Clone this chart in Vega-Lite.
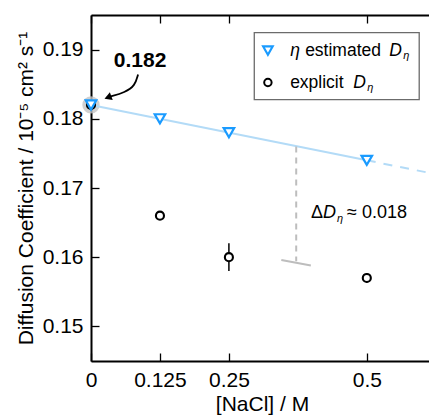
{
  "$schema": "https://vega.github.io/schema/vega-lite/v6.json",
  "width": 342,
  "height": 346,
  "autosize": "none",
  "padding": {"left": 91, "top": 15, "right": 0, "bottom": 55},
  "background": "white",
  "config": {
    "font": "Liberation Sans",
    "view": {"stroke": null},
    "text": {"font": "Liberation Sans", "color": "black"},
    "axis": {"grid": false, "domainColor": "black", "domainWidth": 2, "tickColor": "black", "tickWidth": 1.3, "tickSize": -8, "labelColor": "black", "titleColor": "black", "labelFontSize": 21, "titleFontSize": 21, "titleFontWeight": "normal", "labelFont": "Liberation Sans", "titleFont": "Liberation Sans", "labelFlush": false}
  },
  "datasets": {
    "explicit": [
      {"conc": 0, "D": 0.182, "lo": 0.182, "hi": 0.182},
      {"conc": 0.125, "D": 0.166, "lo": 0.1657, "hi": 0.1663},
      {"conc": 0.25, "D": 0.160, "lo": 0.158, "hi": 0.162},
      {"conc": 0.5, "D": 0.157, "lo": 0.1563, "hi": 0.1577}
    ],
    "estimated": [
      {"conc": 0, "D": 0.182},
      {"conc": 0.125, "D": 0.180},
      {"conc": 0.25, "D": 0.178},
      {"conc": 0.5, "D": 0.174}
    ],
    "fitSolid": [{"conc": 0, "D": 0.182}, {"conc": 0.5, "D": 0.174}],
    "fitDashed": [{"conc": 0.5, "D": 0.174}, {"conc": 0.63, "D": 0.17192}],
    "gap": [{"conc": 0.372, "D": 0.176}, {"conc": 0.372, "D": 0.1594}],
    "gapFoot": [{"conc": 0.345, "D": 0.1596}, {"conc": 0.3986, "D": 0.1588}],
    "arrow": [
      {"conc": 0.0853, "D": 0.1864},
      {"conc": 0.0799, "D": 0.1848},
      {"conc": 0.0617, "D": 0.1838},
      {"conc": 0.0345, "D": 0.1832}
    ],
    "legendRow1": [{"conc": 0.361, "D": 0.18986}],
    "legendRow2": [{"conc": 0.361, "D": 0.18524}],
    "delta": [{"conc": 0.399, "D": 0.1664}]
  },
  "layer": [
    {
      "data": {"values": [{"conc": 0, "D": 0.182}]},
      "mark": {"type": "point", "shape": "circle", "filled": true, "size": 300, "color": "#c4c4c4", "opacity": 0.8},
      "encoding": {
        "x": {"field": "conc", "type": "quantitative", "scale": {"domain": [0, 0.62], "nice": false, "zero": false},
              "axis": {"orient": "bottom", "values": [0, 0.125, 0.25, 0.5], "labelExpr": "datum.value", "labelPadding": 16, "title": "[NaCl] / M", "titlePadding": 3}},
        "y": {"field": "D", "type": "quantitative", "scale": {"domain": [0.145, 0.195], "nice": false, "zero": false},
              "axis": {"orient": "left", "values": [0.15, 0.16, 0.17, 0.18, 0.19], "format": ".2f", "labelPadding": 16, "title": "Diffusion Coefficient / 10⁻⁵ cm² s⁻¹", "titlePadding": 6}}
      }
    },
    {
      "data": {"values": [{"conc": 0, "D": 0.19}]},
      "mark": {"type": "point", "opacity": 0},
      "encoding": {
        "x": {"field": "conc", "type": "quantitative", "axis": {"orient": "top", "values": [0, 0.125, 0.25, 0.5], "labels": false, "title": null}},
        "y": {"field": "D", "type": "quantitative"}
      }
    },
    {
      "data": {"name": "fitSolid"},
      "mark": {"type": "line", "color": "#b3dbf7", "strokeWidth": 2},
      "encoding": {"x": {"field": "conc", "type": "quantitative", "axis": null}, "y": {"field": "D", "type": "quantitative"}}
    },
    {
      "data": {"name": "fitDashed"},
      "mark": {"type": "line", "color": "#b3dbf7", "strokeWidth": 2, "strokeDash": [9, 8], "clip": true},
      "encoding": {"x": {"field": "conc", "type": "quantitative", "axis": null}, "y": {"field": "D", "type": "quantitative"}}
    },
    {
      "data": {"name": "gap"},
      "mark": {"type": "line", "color": "#bdbdbd", "strokeWidth": 2, "strokeDash": [6, 5]},
      "encoding": {"x": {"field": "conc", "type": "quantitative", "axis": null}, "y": {"field": "D", "type": "quantitative"}}
    },
    {
      "data": {"name": "gapFoot"},
      "mark": {"type": "line", "color": "#bdbdbd", "strokeWidth": 2},
      "encoding": {"x": {"field": "conc", "type": "quantitative", "axis": null}, "y": {"field": "D", "type": "quantitative"}}
    },
    {
      "data": {"name": "explicit"},
      "mark": {"type": "rule", "color": "black", "strokeWidth": 1.5},
      "encoding": {"x": {"field": "conc", "type": "quantitative", "axis": null}, "y": {"field": "lo", "type": "quantitative"}, "y2": {"field": "hi"}}
    },
    {
      "data": {"name": "explicit"},
      "mark": {"type": "point", "shape": "circle", "size": 65, "filled": true, "fill": "white", "stroke": "black", "strokeWidth": 2.1, "opacity": 1},
      "encoding": {"x": {"field": "conc", "type": "quantitative", "axis": null}, "y": {"field": "D", "type": "quantitative"}}
    },
    {
      "data": {"name": "estimated"},
      "mark": {"type": "point", "shape": "triangle-down", "size": 110, "filled": true, "fill": "white", "stroke": "#1a9bff", "strokeWidth": 2.2, "opacity": 1},
      "encoding": {"x": {"field": "conc", "type": "quantitative", "axis": null}, "y": {"field": "D", "type": "quantitative"}}
    },
    {
      "data": {"name": "arrow"},
      "mark": {"type": "line", "color": "black", "strokeWidth": 1.8, "interpolate": "basis"},
      "encoding": {"x": {"field": "conc", "type": "quantitative", "axis": null}, "y": {"field": "D", "type": "quantitative"}}
    },
    {
      "data": {"values": [{"conc": 0.0327, "D": 0.18315}]},
      "mark": {"type": "point", "shape": "triangle", "size": 70, "filled": true, "color": "black", "opacity": 1, "angle": 250},
      "encoding": {"x": {"field": "conc", "type": "quantitative", "axis": null}, "y": {"field": "D", "type": "quantitative"}}
    },
    {
      "data": {"values": [{"conc": 0.089, "D": 0.1883, "label": "0.182"}]},
      "mark": {"type": "text", "fontSize": 21, "fontWeight": "bold", "align": "center", "baseline": "middle"},
      "encoding": {"x": {"field": "conc", "type": "quantitative", "axis": null}, "y": {"field": "D", "type": "quantitative"}, "text": {"field": "label"}}
    },
    {
      "data": {"values": [{"x1": 0.296, "x2": 0.595, "y1": 0.18278, "y2": 0.19245}]},
      "mark": {"type": "rect", "fill": "white", "stroke": "#6b6b6b", "strokeWidth": 1.3},
      "encoding": {"x": {"field": "x1", "type": "quantitative", "axis": null}, "x2": {"field": "x2"}, "y": {"field": "y1", "type": "quantitative"}, "y2": {"field": "y2"}}
    },
    {
      "data": {"values": [{"conc": 0.3207, "D": 0.18986}]},
      "mark": {"type": "point", "shape": "triangle-down", "size": 90, "filled": true, "fill": "white", "stroke": "#1a9bff", "strokeWidth": 2.2, "opacity": 1},
      "encoding": {"x": {"field": "conc", "type": "quantitative", "axis": null}, "y": {"field": "D", "type": "quantitative"}}
    },
    {
      "data": {"values": [{"conc": 0.3207, "D": 0.18524}]},
      "mark": {"type": "point", "shape": "circle", "size": 55, "filled": true, "fill": "white", "stroke": "black", "strokeWidth": 2, "opacity": 1},
      "encoding": {"x": {"field": "conc", "type": "quantitative", "axis": null}, "y": {"field": "D", "type": "quantitative"}}
    },
    {
      "data": {"name": "legendRow1"},
      "mark": {"type": "text", "text": "η", "fontStyle": "italic", "fontSize": 17.5, "align": "left", "baseline": "middle"},
      "encoding": {"x": {"field": "conc", "type": "quantitative", "axis": null}, "y": {"field": "D", "type": "quantitative"}}
    },
    {
      "data": {"name": "legendRow1"},
      "mark": {"type": "text", "text": "estimated", "fontSize": 17.5, "align": "left", "baseline": "middle", "dx": 15},
      "encoding": {"x": {"field": "conc", "type": "quantitative", "axis": null}, "y": {"field": "D", "type": "quantitative"}}
    },
    {
      "data": {"name": "legendRow1"},
      "mark": {"type": "text", "text": "D", "fontStyle": "italic", "fontSize": 17.5, "align": "left", "baseline": "middle", "dx": 99},
      "encoding": {"x": {"field": "conc", "type": "quantitative", "axis": null}, "y": {"field": "D", "type": "quantitative"}}
    },
    {
      "data": {"name": "legendRow1"},
      "mark": {"type": "text", "text": "η", "fontStyle": "italic", "fontSize": 11, "align": "left", "baseline": "middle", "dx": 113, "dy": 5},
      "encoding": {"x": {"field": "conc", "type": "quantitative", "axis": null}, "y": {"field": "D", "type": "quantitative"}}
    },
    {
      "data": {"name": "legendRow2"},
      "mark": {"type": "text", "text": "explicit", "fontSize": 17.5, "align": "left", "baseline": "middle"},
      "encoding": {"x": {"field": "conc", "type": "quantitative", "axis": null}, "y": {"field": "D", "type": "quantitative"}}
    },
    {
      "data": {"name": "legendRow2"},
      "mark": {"type": "text", "text": "D", "fontStyle": "italic", "fontSize": 17.5, "align": "left", "baseline": "middle", "dx": 63},
      "encoding": {"x": {"field": "conc", "type": "quantitative", "axis": null}, "y": {"field": "D", "type": "quantitative"}}
    },
    {
      "data": {"name": "legendRow2"},
      "mark": {"type": "text", "text": "η", "fontStyle": "italic", "fontSize": 11, "align": "left", "baseline": "middle", "dx": 77, "dy": 5},
      "encoding": {"x": {"field": "conc", "type": "quantitative", "axis": null}, "y": {"field": "D", "type": "quantitative"}}
    },
    {
      "data": {"name": "delta"},
      "mark": {"type": "text", "text": "Δ", "fontSize": 18, "align": "left", "baseline": "middle"},
      "encoding": {"x": {"field": "conc", "type": "quantitative", "axis": null}, "y": {"field": "D", "type": "quantitative"}}
    },
    {
      "data": {"name": "delta"},
      "mark": {"type": "text", "text": "D", "fontStyle": "italic", "fontSize": 18, "align": "left", "baseline": "middle", "dx": 12},
      "encoding": {"x": {"field": "conc", "type": "quantitative", "axis": null}, "y": {"field": "D", "type": "quantitative"}}
    },
    {
      "data": {"name": "delta"},
      "mark": {"type": "text", "text": "η", "fontStyle": "italic", "fontSize": 11, "align": "left", "baseline": "middle", "dx": 26, "dy": 6},
      "encoding": {"x": {"field": "conc", "type": "quantitative", "axis": null}, "y": {"field": "D", "type": "quantitative"}}
    },
    {
      "data": {"name": "delta"},
      "mark": {"type": "text", "text": "≈ 0.018", "fontSize": 18, "align": "left", "baseline": "middle", "dx": 36},
      "encoding": {"x": {"field": "conc", "type": "quantitative", "axis": null}, "y": {"field": "D", "type": "quantitative"}}
    }
  ],
  "resolve": {"axis": {"x": "independent"}}
}
